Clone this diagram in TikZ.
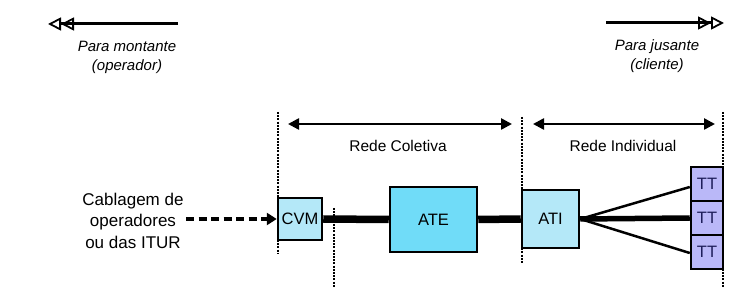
\documentclass[tikz,border=0pt]{standalone}
\usepackage{fontspec}
\setmainfont{Liberation Sans}
\usetikzlibrary{arrows.meta,calc}
\definecolor{cvmfill}{RGB}{180,232,248}
\definecolor{atefill}{RGB}{112,220,248}
\definecolor{ttfill}{RGB}{186,184,248}
\definecolor{tttext}{RGB}{30,30,90}
\tikzset{
  box/.style={draw=black, line width=2.5pt, inner sep=0pt, font=\fontsize{16.5}{19}\selectfont},
  thickcon/.style={line width=7.5pt},
  thincon/.style={line width=2.5pt},
  vdots/.style={line width=2pt, dash pattern=on 2pt off 1.2pt},
  dirarrow/.style={line width=3pt},
  spanarrow/.style={line width=2.5pt, {Triangle[length=11pt,width=11pt]}-{Triangle[length=11pt,width=11pt]}},
  lbl/.style={font=\fontsize{15.5}{18}\selectfont, inner sep=0pt},
  itlbl/.style={font=\fontsize{15}{19}\selectfont\itshape, align=center, inner sep=0pt},
  dbltip/.style={-{Triangle[open,length=13pt,width=13pt,line width=1.8pt]Triangle[open,length=13pt,width=13pt,line width=1.8pt]}},
}
\begin{document}
\begin{tikzpicture}[x=1pt,y=-1pt]
\useasboundingbox (0,0) rectangle (742,288);
% direction arrows
\coordinate (upA) at (178,24);
\coordinate (upB) at (48,24);
\draw[dirarrow, dbltip] (upA) -- (upB);
\node[itlbl] (uptext) at (127,57.5) {Para montante\\(operador)};
\coordinate (dnA) at (606,23);
\coordinate (dnB) at (724,23);
\draw[dirarrow, dbltip] (dnA) -- (dnB);
\node[itlbl] (dntext) at (657,56.5) {Para jusante\\(cliente)};
% vertical dotted boundaries
\draw[vdots] (278,112) -- (278,253);
\draw[vdots] (334,208) -- (334,288);
\draw[vdots] (522,117) -- (522,263);
\draw[vdots] (723,112) -- (723,288);
% span arrows
\coordinate (rcA) at (288,124);
\coordinate (rcB) at (512,124);
\draw[spanarrow] (rcA) -- (rcB);
\node[lbl] (rc) at (398,146) {Rede Coletiva};
\coordinate (riA) at (533,124);
\coordinate (riB) at (715,124);
\draw[spanarrow] (riA) -- (riB);
\node[lbl] (ri) at (623,146) {Rede Individual};
% boxes
\node[box, fill=cvmfill, minimum width=44pt, minimum height=42pt] (cvm) at (300,219) {CVM};
\node[box, fill=atefill, minimum width=87pt, minimum height=65pt] (ate) at (433.5,219.5) {ATE};
\node[box, fill=cvmfill, minimum width=57pt, minimum height=58pt] (ati) at (550.5,219) {ATI};
\node[box, fill=ttfill, text=tttext, minimum width=32pt, minimum height=34pt] (tt1) at (707,184) {TT};
\node[box, fill=ttfill, text=tttext, minimum width=32pt, minimum height=34pt] (tt2) at (707,218) {TT};
\node[box, fill=ttfill, text=tttext, minimum width=32pt, minimum height=34pt] (tt3) at (707,252) {TT};
% connectors
\draw[thickcon] (cvm.east) -- (ate.west);
\draw[thickcon] (ate.east) -- (ati.west);
\draw[line width=5.5pt] (ati.east) -- (tt2.west);
\draw[thincon] (ati.east) -- ($(tt1.west)+(0,3)$);
\draw[thincon] (ati.east) -- ($(tt3.west)+(0,1)$);
% input
\node[align=center, inner sep=0pt, font=\fontsize{17}{21.5}\selectfont] (cab) at (133,220.5) {Cablagem de\\operadores\\ou das ITUR};
\coordinate (dashA) at (186,219);
\draw[line width=3.5pt, dash pattern=on 8pt off 4.5pt, -{Triangle[length=10pt,width=12pt]}] (dashA) -- (cvm.west);
\end{tikzpicture}
\end{document}
